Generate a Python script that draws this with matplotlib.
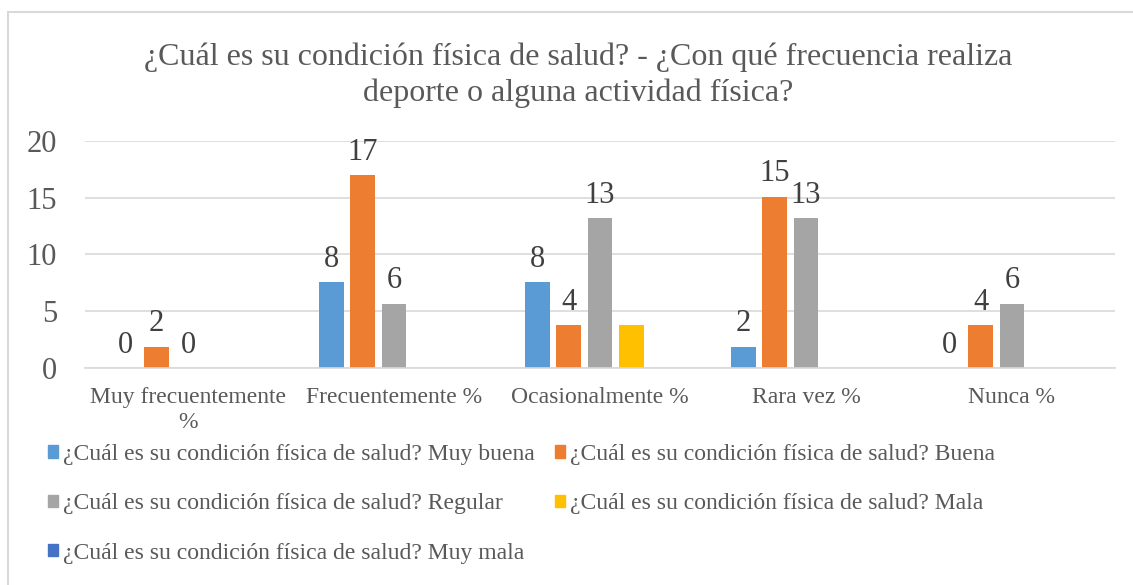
import numpy as np
import matplotlib
matplotlib.use('Agg')
from matplotlib import pyplot as plt
from matplotlib.patches import Patch, Rectangle

categories = ['Muy frecuentemente\n%', 'Frecuentemente %', 'Ocasionalmente %',
              'Rara vez %', 'Nunca %']
series_names = ['¿Cuál es su condición física de salud? Muy buena',
                '¿Cuál es su condición física de salud? Buena',
                '¿Cuál es su condición física de salud? Regular',
                '¿Cuál es su condición física de salud? Mala',
                '¿Cuál es su condición física de salud? Muy mala']
muy_buena = [0, 7.55, 7.55, 1.89, 0]
buena = [1.89, 16.98, 3.77, 15.09, 3.77]
regular = [0, 5.66, 13.21, 13.21, 5.66]
mala = [0, 0, 3.77, 0, 0]
muy_mala = [0, 0, 0, 0, 0]
title = '¿Cuál es su condición física de salud? - ¿Con qué frecuencia realiza\ndeporte o alguna actividad física?'

colors = ['#5B9BD5', '#ED7D31', '#A5A5A5', '#FFC000', '#4472C4']
with_labels = [True, True, True, False, False]
text_col = '#595959'

plt.rcParams['font.family'] = ['Liberation Serif', 'DejaVu Serif']

fig = plt.figure(figsize=(11.33, 5.85), dpi=100)
ax = fig.add_axes([0.075, 0.371, 0.909, 0.388])

x = np.arange(len(categories))
width = 0.12
step = 0.152
all_series = [muy_buena, buena, regular, mala, muy_mala]
for i, vals in enumerate(all_series):
    bars = ax.bar(x + (i - 2) * step, vals, width, color=colors[i])
    if with_labels[i]:
        ax.bar_label(bars, fmt='%.0f', padding=6, fontsize=22, color='#404040')

ax.set_xlim(-0.5, len(categories) - 0.5)
ax.set_ylim(0, 20)
ax.set_yticks([0, 5, 10, 15, 20])
ax.yaxis.grid(True, color='#D9D9D9', linewidth=1.2)
ax.set_axisbelow(True)
for s in ['top', 'right', 'left']:
    ax.spines[s].set_visible(False)
ax.spines['bottom'].set_color('#D9D9D9')
ax.spines['bottom'].set_linewidth(1.2)
ax.tick_params(axis='y', length=0, pad=20, labelsize=22, labelcolor=text_col)
ax.tick_params(axis='x', length=0, pad=14, labelsize=17, labelcolor=text_col)
ax.set_xticks(x)
ax.set_xticklabels(categories, linespacing=1.25)

fig.text(0.51, 0.927, title, ha='center', va='top', fontsize=23,
         color=text_col, linespacing=1.3)

# legend in two columns, filled row by row like Excel
handles = [Patch(color=c) for c in colors]
leg_kw = dict(loc='upper left', ncol=1, frameon=False, fontsize=17,
              labelcolor=text_col, handlelength=0.42, handleheight=0.42,
              handletextpad=0.2, labelspacing=1.2, borderaxespad=0, borderpad=0)
fig.legend([handles[i] for i in [0, 2, 4]],
           [series_names[i] for i in [0, 2, 4]],
           bbox_to_anchor=(48 / 1133, 1 - 444 / 585), **leg_kw)
fig.legend([handles[i] for i in [1, 3]], [series_names[i] for i in [1, 3]],
           bbox_to_anchor=(555 / 1133, 1 - 444 / 585), **leg_kw)

fig.add_artist(Rectangle((8 / 1133, -0.1), 1.2, 1 - 12 / 585 + 0.1,
                         transform=fig.transFigure, fill=False,
                         edgecolor='#D9D9D9', linewidth=1.5))

fig.savefig('out.png', dpi=100)
